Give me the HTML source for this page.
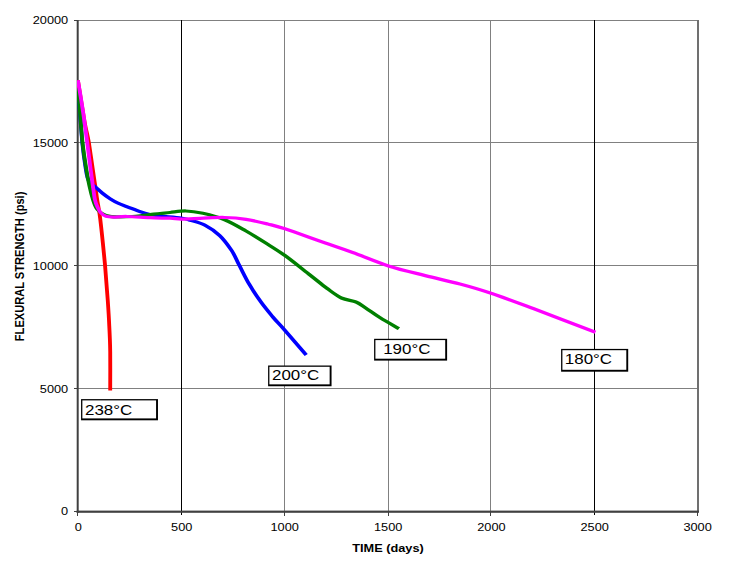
<!DOCTYPE html>
<html><head><meta charset="utf-8">
<style>
html,body{margin:0;padding:0;background:#fff;}
body{width:743px;height:573px;overflow:hidden;font-family:"Liberation Sans",sans-serif;}
svg{display:block;}
text{font-family:"Liberation Sans",sans-serif;fill:#000;}
</style></head><body>
<svg width="743" height="573" viewBox="0 0 743 573">
<rect width="743" height="573" fill="#fff"/>
<!-- grid -->
<g stroke="#808080" stroke-width="1" shape-rendering="crispEdges">
<line x1="78" y1="20.5" x2="698" y2="20.5"/>
<line x1="78" y1="142.5" x2="698" y2="142.5"/>
<line x1="78" y1="265.5" x2="698" y2="265.5"/>
<line x1="78" y1="388.5" x2="698" y2="388.5"/>
<line x1="284.5" y1="20" x2="284.5" y2="511"/>
<line x1="388.5" y1="20" x2="388.5" y2="511"/>
<line x1="490.5" y1="20" x2="490.5" y2="511"/>
</g>
<g stroke="#000" stroke-width="1" shape-rendering="crispEdges">
<line x1="181.5" y1="20" x2="181.5" y2="515"/>
<line x1="594.5" y1="20" x2="594.5" y2="515"/>
</g>
<!-- right border -->
<rect x="697" y="20" width="2" height="492" fill="#707070"/>
<!-- axes -->
<rect x="76.7" y="20" width="2" height="493" fill="#404040"/>
<rect x="76.7" y="510.6" width="622.3" height="2.2" fill="#404040"/>
<g stroke="#404040" stroke-width="1" shape-rendering="crispEdges">
<line x1="74" y1="20.5" x2="78" y2="20.5"/>
<line x1="74" y1="142.5" x2="78" y2="142.5"/>
<line x1="74" y1="265.5" x2="78" y2="265.5"/>
<line x1="74" y1="388.5" x2="78" y2="388.5"/>
<line x1="74" y1="511.5" x2="78" y2="511.5"/>
<line x1="77.5" y1="511" x2="77.5" y2="516"/>
<line x1="284.5" y1="511" x2="284.5" y2="516"/>
<line x1="388.5" y1="511" x2="388.5" y2="516"/>
<line x1="490.5" y1="511" x2="490.5" y2="516"/>
<line x1="697.5" y1="511" x2="697.5" y2="516"/>
</g>
<!-- curves -->
<clipPath id="c"><rect x="77" y="20" width="621" height="491"/></clipPath>
<g clip-path="url(#c)"><g fill="none" stroke-width="3.25" stroke-linejoin="round" stroke-linecap="butt" transform="scale(1.18,1)">
<path stroke="#ff0000" d="M66.0,80.2 C66.7,85.5 69.2,104.2 70.3,112.0 C71.3,119.8 71.7,121.9 72.5,127.0 C73.4,132.1 74.3,135.8 75.3,142.5 C76.2,149.2 77.5,160.4 78.4,167.5 C79.3,174.6 79.9,179.6 80.6,185.0 C81.3,190.4 81.7,194.4 82.4,200.0 C83.1,205.6 83.8,207.7 84.9,218.5 C86.0,229.3 87.9,251.4 89.0,265.0 C90.0,278.6 90.7,289.8 91.3,300.0 C91.9,310.2 92.3,317.3 92.6,326.0 C93.0,334.7 93.3,341.3 93.4,352.0 C93.5,362.7 93.4,384.0 93.4,390.4"/>
<path stroke="#0000ff" d="M66.0,89.0 C66.3,92.8 67.1,103.1 67.7,112.0 C68.3,120.9 69.0,133.2 69.7,142.5 C70.5,151.8 71.7,161.6 72.5,167.5 C73.2,173.4 73.6,175.3 74.3,178.0 C75.0,180.7 75.7,182.1 76.7,183.5 C77.7,184.9 78.7,184.9 80.3,186.5 C82.0,188.1 84.4,190.9 86.6,193.0 C88.8,195.1 91.4,197.3 93.6,199.0 C95.9,200.7 97.7,201.9 100.0,203.2 C102.3,204.5 104.5,205.3 107.6,206.7 C110.8,208.1 115.7,210.5 119.0,211.8 C122.2,213.1 124.4,213.8 127.1,214.5 C129.9,215.2 131.2,215.4 135.6,216.0 C140.0,216.6 149.2,217.3 153.4,218.0 C157.6,218.7 157.7,219.0 161.0,220.2 C164.4,221.4 169.4,222.6 173.6,225.2 C177.8,227.8 182.4,231.4 186.2,235.6 C190.0,239.8 193.5,245.7 196.3,250.5 C199.0,255.3 200.0,259.0 202.5,264.7 C205.1,270.4 208.2,278.3 211.4,284.6 C214.5,290.9 218.0,297.0 221.4,302.4 C224.7,307.8 228.2,312.6 231.4,317.2 C234.7,321.8 236.3,323.4 241.0,329.7 C245.7,336.0 256.4,350.8 259.5,355.0"/>
<path stroke="#008000" d="M66.0,88.0 C66.3,92.0 67.1,102.9 67.8,112.0 C68.4,121.1 69.1,133.2 69.9,142.5 C70.8,151.8 71.9,160.4 72.9,167.5 C73.8,174.6 74.6,179.6 75.6,185.0 C76.6,190.4 77.8,196.0 78.9,200.0 C80.0,204.0 80.8,206.7 82.2,209.0 C83.6,211.3 85.5,212.8 87.3,214.0 C89.1,215.2 90.8,215.8 93.2,216.3 C95.6,216.8 98.6,216.8 101.7,216.8 C104.8,216.8 108.8,216.7 111.9,216.5 C115.0,216.3 117.8,215.9 120.3,215.6 C122.9,215.3 124.6,214.8 127.1,214.5 C129.7,214.2 132.8,213.8 135.6,213.5 C138.4,213.2 140.4,212.9 144.1,212.5 C147.7,212.1 152.8,210.9 157.5,211.0 C162.1,211.1 166.6,211.9 172.0,213.3 C177.5,214.8 184.3,216.8 190.3,219.7 C196.4,222.6 202.4,226.9 208.5,231.0 C214.6,235.1 221.4,240.2 226.9,244.3 C232.4,248.4 235.6,250.5 241.5,255.6 C247.5,260.7 256.8,269.6 262.7,275.0 C268.6,280.4 272.6,284.5 277.0,288.3 C281.5,292.1 285.2,295.7 289.3,298.0 C293.4,300.3 298.3,300.3 301.7,302.0 C305.1,303.7 306.5,305.4 309.9,308.0 C313.3,310.6 317.5,314.4 322.2,317.8 C326.9,321.2 335.5,326.9 338.1,328.7"/>
<path stroke="#ff00ff" d="M66.0,80.2 C66.8,85.5 69.1,101.6 70.4,112.0 C71.7,122.4 72.9,133.2 73.9,142.5 C74.9,151.8 75.8,160.4 76.6,167.5 C77.4,174.6 78.0,179.6 78.6,185.0 C79.3,190.4 79.8,196.2 80.5,200.0 C81.2,203.8 82.0,205.6 82.9,207.8 C83.7,210.0 84.4,211.6 85.6,213.0 C86.8,214.4 88.1,215.6 89.8,216.3 C91.6,217.0 93.2,217.0 96.2,217.0 C99.2,217.0 102.5,216.4 107.6,216.5 C112.8,216.6 121.0,217.4 127.1,217.7 C133.2,218.0 139.6,218.0 144.1,218.2 C148.5,218.4 149.6,219.0 153.8,219.0 C158.1,219.0 163.4,218.6 169.5,218.3 C175.6,218.1 183.8,217.3 190.3,217.5 C196.8,217.7 202.4,218.2 208.5,219.3 C214.6,220.4 221.4,222.4 226.9,224.0 C232.4,225.6 233.0,225.5 241.5,228.8 C250.1,232.2 268.7,240.2 278.3,244.1 C287.9,248.0 290.4,248.9 298.9,252.5 C307.4,256.1 319.0,262.0 329.2,265.9 C339.5,269.8 350.3,272.6 360.4,275.6 C370.5,278.6 380.6,281.1 389.8,284.0 C399.0,286.9 405.2,288.9 415.5,293.0 C425.9,297.1 437.1,302.1 451.9,308.6 C466.8,315.2 495.8,328.4 504.6,332.3"/>
</g></g>
<!-- y tick labels -->
<g font-size="11px" text-anchor="end">
<text transform="translate(68.2,23.8) scale(1.16,1)">20000</text>
<text transform="translate(68.2,146.7) scale(1.16,1)">15000</text>
<text transform="translate(68.2,269.6) scale(1.16,1)">10000</text>
<text transform="translate(68.2,392.6) scale(1.16,1)">5000</text>
<text transform="translate(68.2,514.5) scale(1.16,1)">0</text>
</g>
<!-- x tick labels -->
<g font-size="11px" text-anchor="middle">
<text transform="translate(78.2,531.1) scale(1.16,1)">0</text>
<text transform="translate(181.7,531.1) scale(1.16,1)">500</text>
<text transform="translate(284.7,531.1) scale(1.16,1)">1000</text>
<text transform="translate(388.2,531.1) scale(1.16,1)">1500</text>
<text transform="translate(491.4,531.1) scale(1.16,1)">2000</text>
<text transform="translate(594.7,531.1) scale(1.16,1)">2500</text>
<text transform="translate(697.6,531.1) scale(1.16,1)">3000</text>
</g>
<!-- titles -->
<text font-size="11px" font-weight="bold" text-anchor="middle" transform="translate(388,551.8) scale(1.16,1)">TIME (days)</text>
<text font-size="11.1px" font-weight="bold" text-anchor="middle" transform="translate(23.7,266.4) rotate(-90) scale(1,1.1)">FLEXURAL STRENGTH (psi)</text>
<!-- labels -->
<rect x="81.06" y="399.10" width="76.91" height="21.20" fill="#000"/><rect x="82.36" y="400.40" width="73.71" height="18.00" fill="#fff"/>
<rect x="268.10" y="365.50" width="63.45" height="20.75" fill="#000"/><rect x="269.40" y="366.80" width="60.25" height="17.55" fill="#fff"/>
<rect x="374.10" y="338.80" width="73.00" height="21.80" fill="#000"/><rect x="375.40" y="340.10" width="69.80" height="18.60" fill="#fff"/>
<rect x="561.10" y="348.90" width="67.10" height="22.80" fill="#000"/><rect x="562.40" y="350.20" width="63.90" height="19.60" fill="#fff"/>
<g font-size="15px">
<text transform="translate(85,414.8) scale(1.13,1)">238°C</text>
<text transform="translate(272,380.1) scale(1.13,1)">200°C</text>
<text transform="translate(383.2,353.6) scale(1.13,1)">190°C</text>
<text transform="translate(564.8,363.5) scale(1.13,1)">180°C</text>
</g>
</svg>
</body></html>
